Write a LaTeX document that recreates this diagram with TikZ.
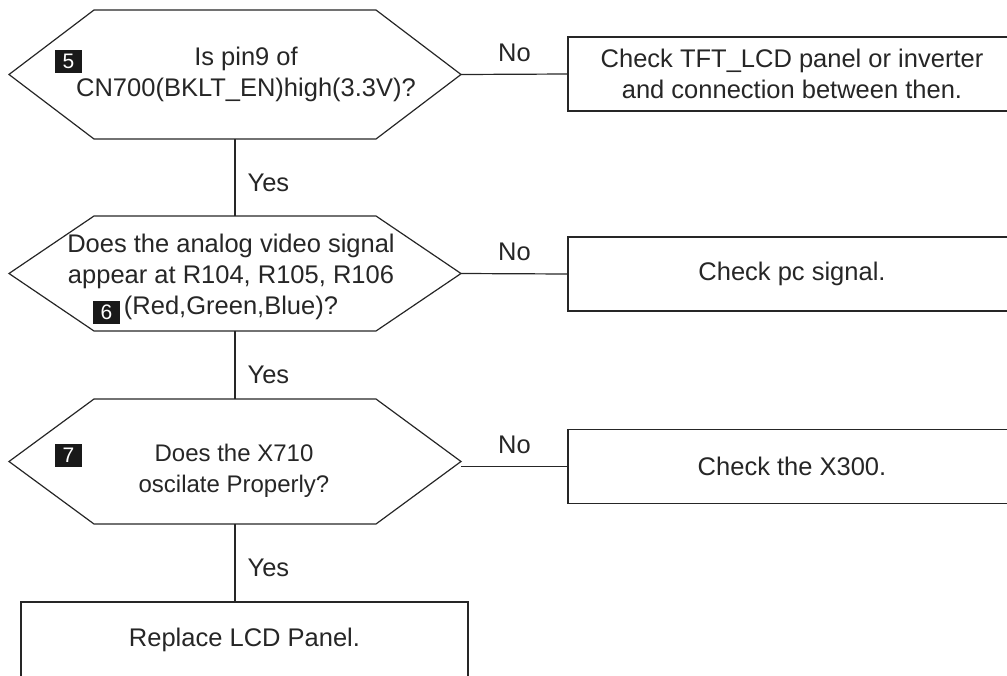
\documentclass[tikz,border=0pt]{standalone}
\usepackage{fontspec}
\setmainfont{Liberation Sans}
\usetikzlibrary{positioning}
\newcommand{\hexline}[1]{%
  \draw (#1.west) -- ([xshift=85pt]#1.north west) -- ([xshift=-85pt]#1.north east)
    -- (#1.east) -- ([xshift=-85pt]#1.south east) -- ([xshift=85pt]#1.south west) -- cycle;}
\begin{document}
\begin{tikzpicture}[x=1pt,y=-1pt,line width=1.2pt,color=black!85,
    every node/.style={font=\fontsize{25.5}{30.5}\selectfont},
    hexa/.style={inner sep=0pt,outer sep=0pt,minimum width=452pt},
    chk/.style={draw,inner sep=0pt,outer sep=0pt,minimum width=448pt,minimum height=74pt,align=center},
    tag/.style={fill=black!90,text=white,inner sep=0pt,minimum width=27pt,minimum height=23pt,font=\fontsize{21}{21}\selectfont},
    lbl/.style={inner sep=0pt}]
    \clip (0,0) rectangle (1007,675);
    % questions
    \node[hexa,minimum height=129pt] (h1) at (235,74.5) {};
    \node[hexa,minimum height=115pt] (h2) at (235,273.5) {};
    \node[hexa,minimum height=125pt] (h3) at (235,461.5) {};
    \hexline{h1} \hexline{h2} \hexline{h3}
    \node[align=center] (q1) at (246,74.5) {Is pin9 of\\CN700(BKLT\_EN)high(3.3V)?};
    \node[align=center,font=\fontsize{25.5}{31}\selectfont] (q2) at (231,277) {Does the analog video signal\\appear at R104, R105, R106\\(Red,Green,Blue)?};
    \node[align=center,font=\fontsize{24}{31.5}\selectfont] (q3) at (234,471) {Does the X710\\oscilate Properly?};
    \node[tag] (t5) at (68.5,61) {5};
    \node[tag] (t6) at (106.5,312) {6};
    \node[tag] (t7) at (68.5,455) {7};
    % checks
    \node[chk] (c1) at (792,74) {Check TFT\_LCD panel or inverter\\and connection between then.};
    \node[chk] (c2) at (792,274) {Check pc signal.};
    \node[chk] (c3) at (792,466.5) {Check the X300.};
    \node[chk,minimum width=447pt,minimum height=76pt] (fin) at (244.5,640) {Replace LCD Panel.};
    % connectors
    \draw (h1.east) -- node[lbl,above=12pt] (n1) {No} (c1.west);
    \draw (h2.east) -- node[lbl,above=12pt] (n2) {No} (c2.west);
    \draw (c3.west -| h3.east) -- node[lbl,above=12pt] (n3) {No} (c3.west);
    \draw (h1.south) -- (h2.north);
    \draw (h2.south) -- (h3.north);
    \draw (h3.south) -- (h3.south |- fin.north);
    \node[lbl,anchor=west] (y1) at (247,183) {Yes};
    \node[lbl,anchor=west] (y2) at (247,375) {Yes};
    \node[lbl,anchor=west] (y3) at (247,568) {Yes};
\end{tikzpicture}
\end{document}
